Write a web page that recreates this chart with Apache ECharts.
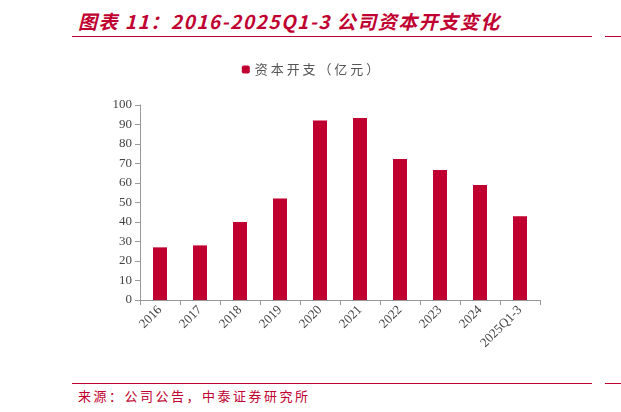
<!DOCTYPE html>
<html><head><meta charset="utf-8">
<script src="https://cdn.jsdelivr.net/npm/echarts@6/dist/echarts.min.js"></script>
<style>
body{margin:0;background:#fff;font-family:"Noto Sans CJK SC",sans-serif;}
#wrap{position:relative;width:621px;height:412px;}
#title{position:absolute;left:78px;top:7px;color:#C00030;font-size:19px;font-weight:bold;font-style:italic;letter-spacing:1.5px;}
#line1{position:absolute;left:72px;top:36px;width:520px;height:1px;background:#C00030;}
#line1b{position:absolute;left:605px;top:36px;width:16px;height:1px;background:#C00030;}
#line2{position:absolute;left:72px;top:383px;width:520px;height:1px;background:#C00030;}
#line2b{position:absolute;left:605px;top:383px;width:16px;height:1px;background:#C00030;}
#src{position:absolute;left:78px;top:386px;color:#C00030;font-size:13px;letter-spacing:2.5px;}
#chart{position:absolute;left:0;top:40px;width:621px;height:340px;}
</style></head>
<body><div id="wrap">
<div id="title">图表 11：2016-2025Q1-3 公司资本开支变化</div>
<div id="line1"></div><div id="line1b"></div>
<div id="chart"></div>
<div id="line2"></div><div id="line2b"></div>
<div id="src">来源：公司公告，中泰证券研究所</div>
</div>
<script>
const categories = ['2016','2017','2018','2019','2020','2021','2022','2023','2024','2025Q1-3'];
const capex = [27, 28, 40, 52, 92, 93.3, 72.3, 66.7, 59, 43];
const seriesName = '资本开支（亿元）';

const chart = echarts.init(document.getElementById('chart'));
chart.setOption({
  animation: false,
  legend: {
    top: 18, left: 'center', itemWidth: 8, itemHeight: 8,
    textStyle: {color: '#555', fontSize: 13, fontFamily: 'Noto Sans CJK SC'},
    formatter: n => n.split('').join(' '),
    data: [seriesName]
  },
  grid: {left: 140, right: 81, top: 65, bottom: 80},
  xAxis: {
    type: 'category', data: categories,
    axisLine: {lineStyle: {color: '#999'}},
    axisTick: {show: true, lineStyle: {color: '#999'}},
    axisLabel: {rotate: 45, color: '#444', fontSize: 13, fontFamily: 'Liberation Serif', interval: 0}
  },
  yAxis: {
    type: 'value', min: 0, max: 100, interval: 10,
    splitLine: {show: false},
    axisLine: {show: true, lineStyle: {color: '#999'}},
    axisTick: {show: true, lineStyle: {color: '#999'}},
    axisLabel: {color: '#444', fontSize: 13, fontFamily: 'Liberation Serif'}
  },
  series: [{
    name: seriesName, type: 'bar', data: capex, barWidth: 14,
    itemStyle: {color: '#C00030'}
  }]
});
</script></body></html>
